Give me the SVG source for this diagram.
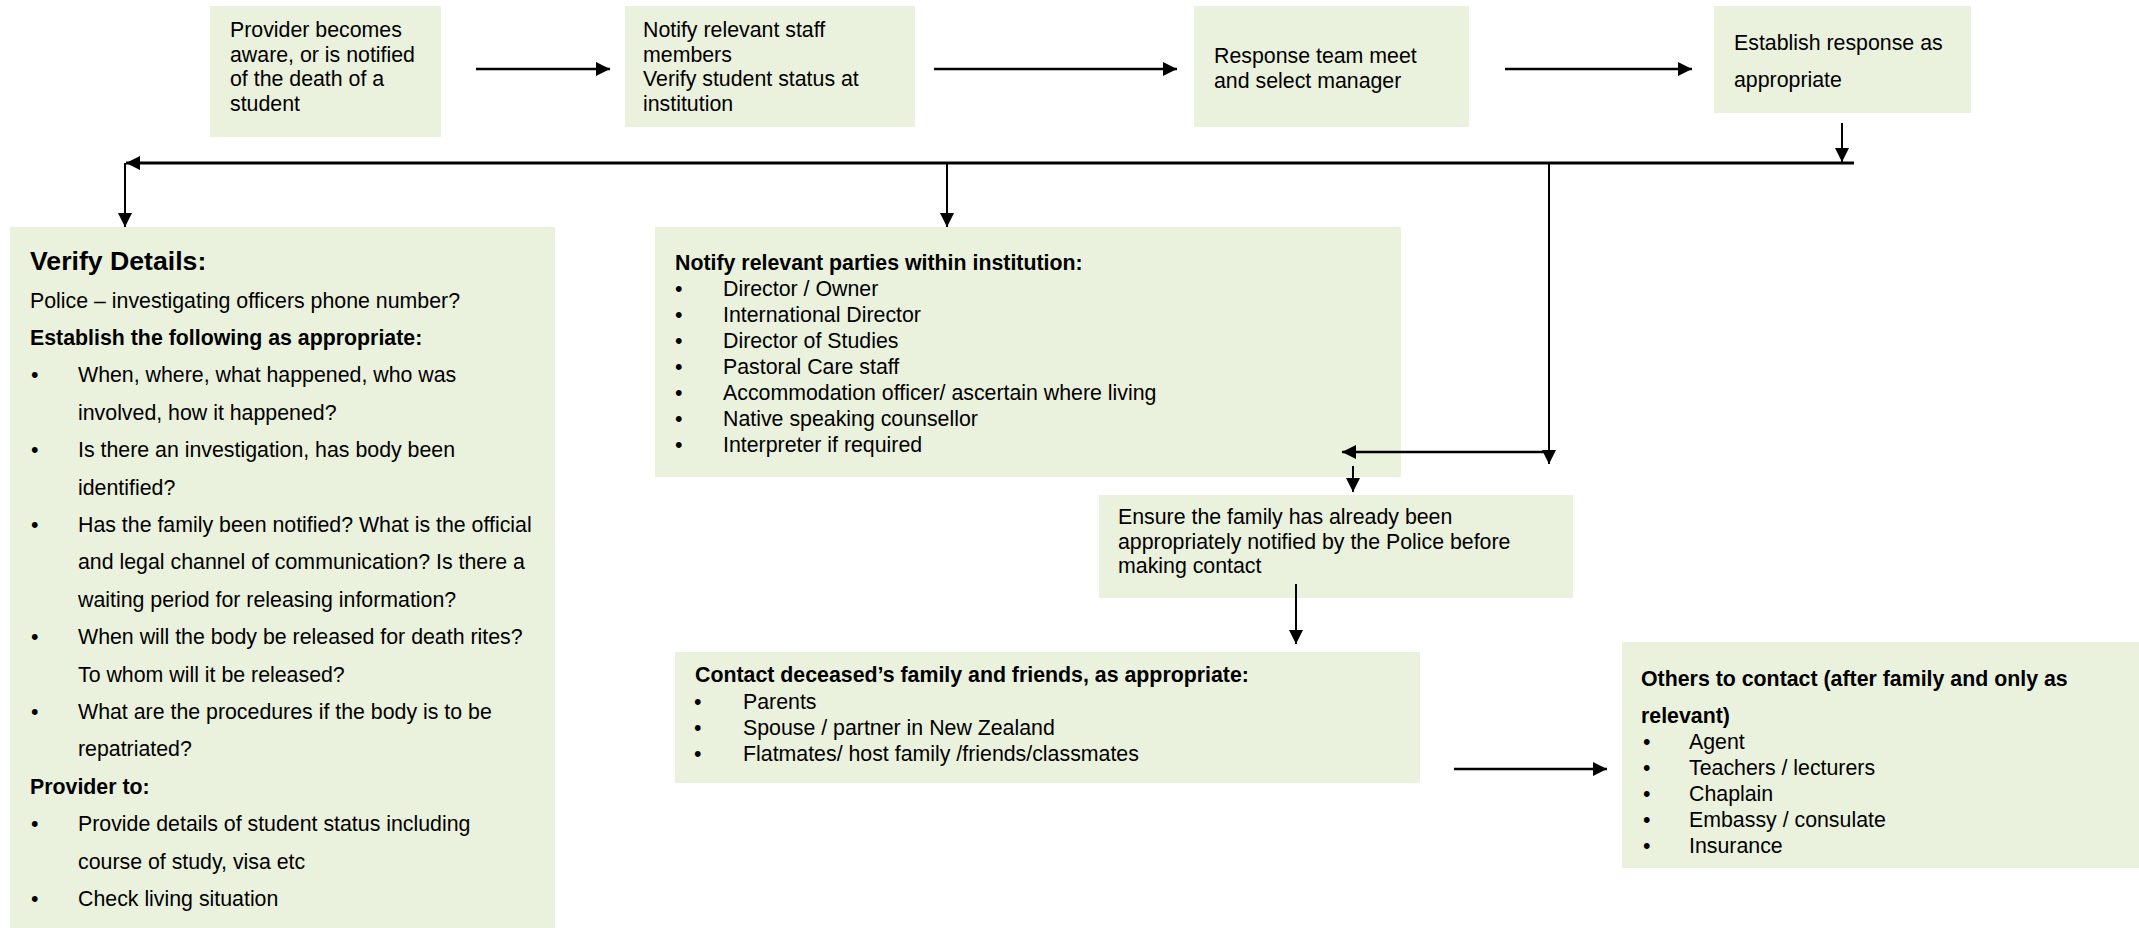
<svg xmlns="http://www.w3.org/2000/svg" width="2139" height="928" viewBox="0 0 2139 928">
<style>
.box{fill:#EAF1DD;}
text{font-family:"Liberation Sans",Arial,sans-serif;font-size:21.33px;fill:#000;}
.b{font-weight:bold;}
.h{font-weight:bold;font-size:26.67px;}
.bu{font-size:21.33px;}
.ln{stroke:#000;fill:none;}
.thick{stroke-width:2.6;}
.thin{stroke-width:2;}
</style>
<defs>
<marker id="ah" markerUnits="userSpaceOnUse" markerWidth="16" markerHeight="16" refX="14" refY="7" orient="auto">
<path d="M0,0 L14,7 L0,14 z" fill="#000"/>
</marker>
</defs>
<rect width="2139" height="928" fill="#fff"/>

<g id="n1">
<rect class="box" x="210" y="6" width="231" height="131"/>
<g transform="translate(0,1.2)">
<text x="230" y="36">Provider becomes</text>
<text x="230" y="60.5">aware, or is notified</text>
<text x="230" y="85">of the death of a</text>
<text x="230" y="109.5">student</text>
</g>
</g>
<g id="n2">
<rect class="box" x="625" y="6" width="290" height="121"/>
<g transform="translate(0,1.2)">
<text x="643" y="36">Notify relevant staff</text>
<text x="643" y="60.5">members</text>
<text x="643" y="85">Verify student status at</text>
<text x="643" y="109.5">institution</text>
</g>
</g>
<g id="n3">
<rect class="box" x="1194" y="6" width="275" height="121"/>
<g transform="translate(0,1.2)">
<text x="1214" y="62">Response team meet</text>
<text x="1214" y="86.5">and select manager</text>
</g>
</g>
<g id="n4">
<rect class="box" x="1714" y="6" width="257" height="107"/>
<g transform="translate(0,1.2)">
<text x="1734" y="49">Establish response as</text>
<text x="1734" y="86">appropriate</text>
</g>
</g>

<g id="n5">
<rect class="box" x="10" y="227" width="545" height="701"/>
<g transform="translate(0,1.5)">
<text class="h" x="30" y="268">Verify Details:</text>
<text x="30" y="306">Police – investigating officers phone number?</text>
<text class="b" x="30" y="343.4">Establish the following as appropriate:</text>
<text class="bu" x="31" y="380.8">•</text><text x="78" y="380.8">When, where, what happened, who was</text>
<text x="78" y="418.2">involved, how it happened?</text>
<text class="bu" x="31" y="455.6">•</text><text x="78" y="455.6">Is there an investigation, has body been</text>
<text x="78" y="493">identified?</text>
<text class="bu" x="31" y="530.4">•</text><text x="78" y="530.4">Has the family been notified? What is the official</text>
<text x="78" y="567.8">and legal channel of communication? Is there a</text>
<text x="78" y="605.2">waiting period for releasing information?</text>
<text class="bu" x="31" y="642.6">•</text><text x="78" y="642.6">When will the body be released for death rites?</text>
<text x="78" y="680">To whom will it be released?</text>
<text class="bu" x="31" y="717.4">•</text><text x="78" y="717.4">What are the procedures if the body is to be</text>
<text x="78" y="754.8">repatriated?</text>
<text class="b" x="30" y="792.2">Provider to:</text>
<text class="bu" x="31" y="829.6">•</text><text x="78" y="829.6">Provide details of student status including</text>
<text x="78" y="867">course of study, visa etc</text>
<text class="bu" x="31" y="904.4">•</text><text x="78" y="904.4">Check living situation</text>
</g>
</g>

<g id="n6">
<rect class="box" x="655" y="227" width="746" height="250"/>
<g transform="translate(0,1.5)">
<text class="b" x="675" y="268">Notify relevant parties within institution:</text>
<text class="bu" x="675" y="294">•</text><text x="723" y="294">Director / Owner</text>
<text class="bu" x="675" y="320">•</text><text x="723" y="320">International Director</text>
<text class="bu" x="675" y="346">•</text><text x="723" y="346">Director of Studies</text>
<text class="bu" x="675" y="372">•</text><text x="723" y="372">Pastoral Care staff</text>
<text class="bu" x="675" y="398">•</text><text x="723" y="398">Accommodation officer/ ascertain where living</text>
<text class="bu" x="675" y="424">•</text><text x="723" y="424">Native speaking counsellor</text>
<text class="bu" x="675" y="450">•</text><text x="723" y="450">Interpreter if required</text>
</g>
</g>

<g id="n7">
<rect class="box" x="1099" y="495" width="474" height="103"/>
<g transform="translate(0,1.2)">
<text x="1118" y="523">Ensure the family has already been</text>
<text x="1118" y="548">appropriately notified by the Police before</text>
<text x="1118" y="572">making contact</text>
</g>
</g>

<g id="n8">
<rect class="box" x="675" y="652" width="745" height="131"/>
<g transform="translate(0,1.5)">
<text class="b" x="695" y="680">Contact deceased’s family and friends, as appropriate:</text>
<text class="bu" x="694" y="707">•</text><text x="743" y="707">Parents</text>
<text class="bu" x="694" y="733">•</text><text x="743" y="733">Spouse / partner in New Zealand</text>
<text class="bu" x="694" y="759">•</text><text x="743" y="759">Flatmates/ host family /friends/classmates</text>
</g>
</g>

<g id="n9">
<rect class="box" x="1622" y="642" width="517" height="226"/>
<g transform="translate(0,1.5)">
<text class="b" x="1641" y="684">Others to contact (after family and only as</text>
<text class="b" x="1641" y="721">relevant)</text>
<text class="bu" x="1643" y="747">•</text><text x="1689" y="747">Agent</text>
<text class="bu" x="1643" y="773">•</text><text x="1689" y="773">Teachers / lecturers</text>
<text class="bu" x="1643" y="799">•</text><text x="1689" y="799">Chaplain</text>
<text class="bu" x="1643" y="825">•</text><text x="1689" y="825">Embassy / consulate</text>
<text class="bu" x="1643" y="851">•</text><text x="1689" y="851">Insurance</text>
</g>
</g>

<g id="connectors">
<line class="ln thick" x1="476" y1="69" x2="610" y2="69" marker-end="url(#ah)"/>
<line class="ln thick" x1="934" y1="69" x2="1177" y2="69" marker-end="url(#ah)"/>
<line class="ln thick" x1="1505" y1="69" x2="1692" y2="69" marker-end="url(#ah)"/>
<line class="ln thin" x1="1842" y1="123" x2="1842" y2="162" marker-end="url(#ah)"/>
<line class="ln" stroke-width="3" x1="1854" y1="163" x2="126" y2="163" marker-end="url(#ah)"/>
<line class="ln thin" x1="125" y1="163" x2="125" y2="227" marker-end="url(#ah)"/>
<line class="ln thin" x1="947" y1="163" x2="947" y2="227" marker-end="url(#ah)"/>
<line class="ln thin" x1="1549" y1="163" x2="1549" y2="464" marker-end="url(#ah)"/>
<line class="ln thick" x1="1549" y1="452" x2="1342" y2="452" marker-end="url(#ah)"/>
<line class="ln thin" x1="1353" y1="466" x2="1353" y2="492" marker-end="url(#ah)"/>
<line class="ln thin" x1="1296" y1="584" x2="1296" y2="644" marker-end="url(#ah)"/>
<line class="ln thick" x1="1454" y1="769" x2="1607" y2="769" marker-end="url(#ah)"/>
</g>
</svg>
